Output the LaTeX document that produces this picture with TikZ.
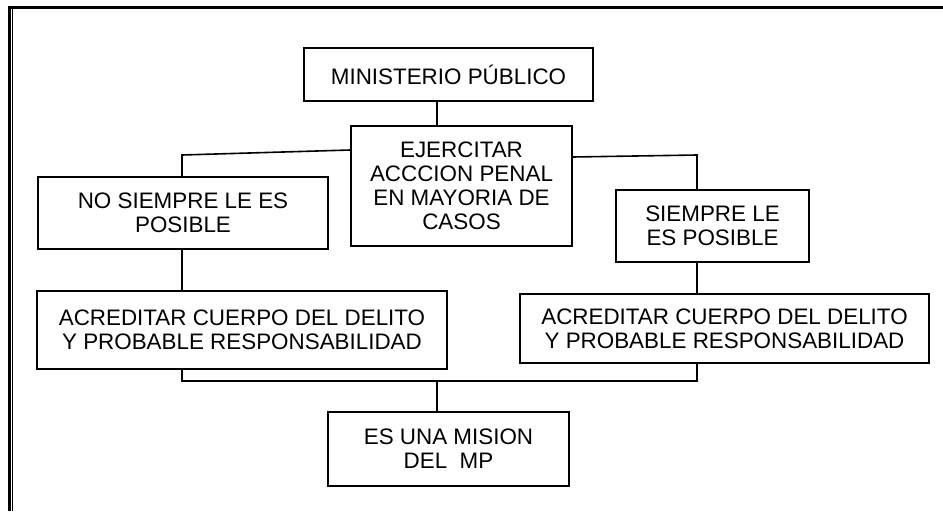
\documentclass[tikz,border=0pt]{standalone}
\usepackage{fontspec}
\setmainfont{Liberation Sans}
\newdimen\px
\px=0.75pt
\begin{document}
\begin{tikzpicture}[
    x=0.75pt,
    y=-0.75pt,
    every node/.style={font=\fontsize{16.8}{18}\selectfont},
    caja/.style={
        draw=black,
        line width=1.6\px,
        align=center,
        inner sep=0pt
    },
    enlace/.style={line width=1.6\px}
]

% ============================================================
% Rahmen
% ============================================================

\useasboundingbox (0,0) rectangle (943,511);

\draw[line width=3\px] (9.5,511) -- (9.5,7.5) -- (943,7.5);
\draw[line width=1\px] (12.5,511) -- (12.5,9);

% ============================================================
% Cajas
% ============================================================

\node[caja, minimum width=289\px, minimum height=53\px]
    (mp) at (448.5,74.5) {MINISTERIO PÚBLICO};

\node[caja, minimum width=221\px, minimum height=120\px]
    (ejer) at (461.5,186)
    {EJERCITAR\\ACCCION PENAL\\EN MAYORIA DE\\CASOS};

\node[caja, minimum width=290\px, minimum height=72\px]
    (nosi) at (183,213) {NO SIEMPRE LE ES\\POSIBLE};

\node[caja, minimum width=193\px, minimum height=72\px]
    (siem) at (712.5,226) {SIEMPRE LE\\ES POSIBLE};

\node[caja, minimum width=410\px, minimum height=78\px]
    (acL) at (242,330)
    {ACREDITAR CUERPO DEL DELITO\\Y PROBABLE RESPONSABILIDAD};

\node[caja, minimum width=409\px, minimum height=69\px]
    (acR) at (724.5,328.5)
    {ACREDITAR CUERPO DEL DELITO\\Y PROBABLE RESPONSABILIDAD};

\node[caja, minimum width=241\px, minimum height=74\px]
    (mis) at (448.5,449) {ES UNA MISION\\DEL\ \ MP};

% ============================================================
% Enlaces
% ============================================================

% Spalten der Verbindungen
\coordinate (cL) at (182,0);
\coordinate (cM) at (437,0);
\coordinate (cR) at (697,0);
\coordinate (bus) at (0,381);

\draw[enlace] (mp.south -| cM) -- (ejer.north -| cM);

% links, leicht geneigt
\coordinate (kL) at (182,155);
\draw[enlace] ([yshift=36\px]ejer.west) -- (kL) -- (nosi.north -| cL);

% rechts
\coordinate (kR) at (697,155);
\draw[enlace] ([yshift=29\px]ejer.east) -- (kR) -- (siem.north -| cR);

\draw[enlace] (nosi.south -| cL) -- (acL.north -| cL);
\draw[enlace] (siem.south -| cR) -- (acR.north -| cR);

% untere Sammelleitung
\draw[enlace]
    (acL.south -| cL) -- (cL |- bus) -- (cR |- bus) -- (acR.south -| cR);

\draw[enlace] (cM |- bus) -- (mis.north -| cM);

\end{tikzpicture}
\end{document}
